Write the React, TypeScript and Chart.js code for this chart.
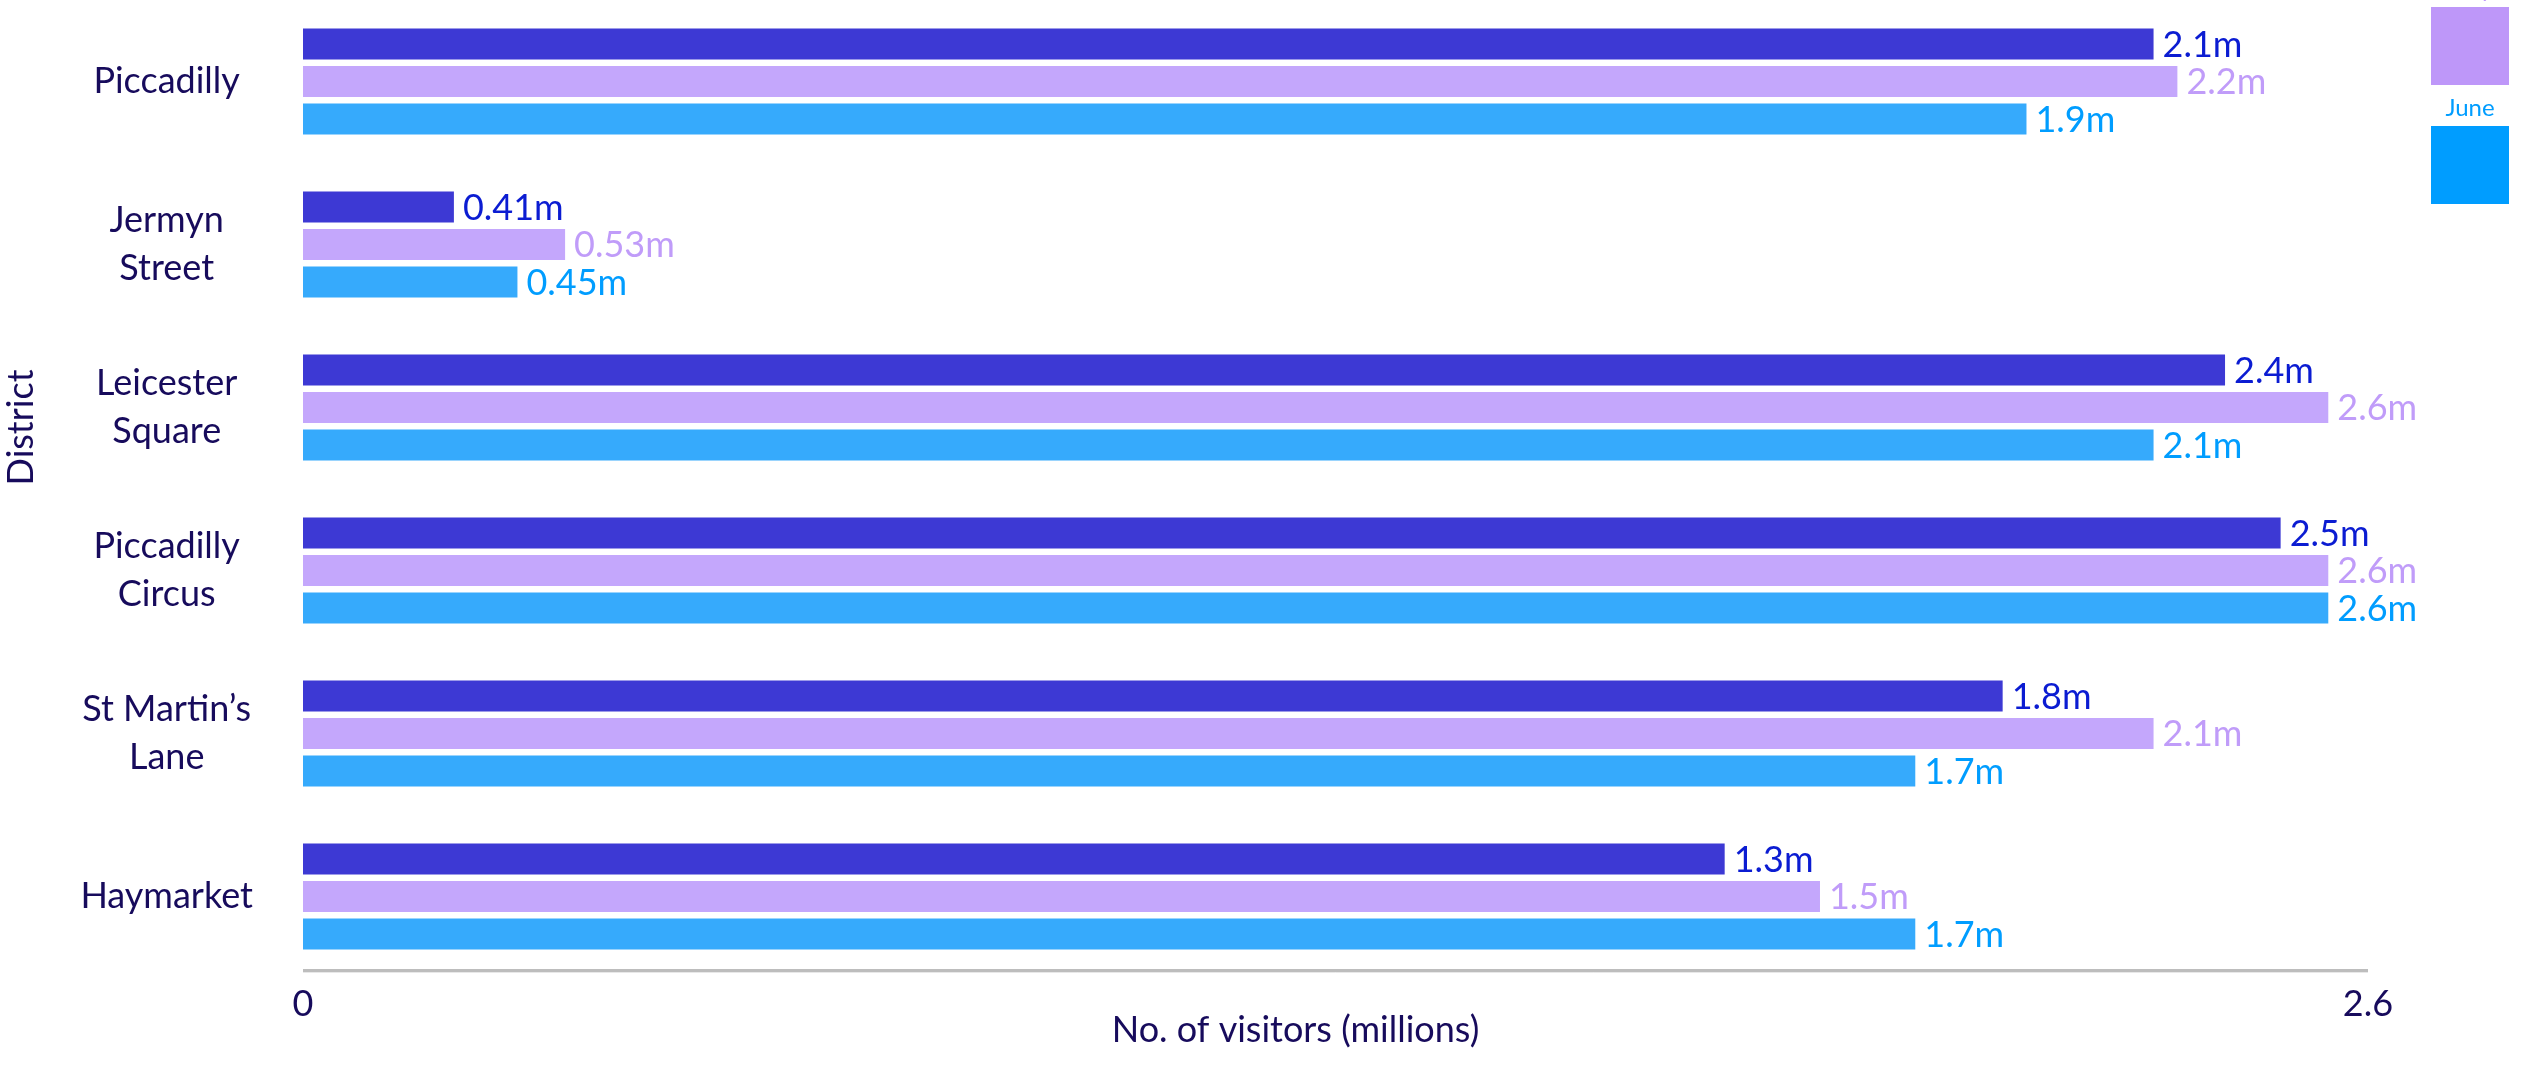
import React, { useEffect, useRef } from "react";
import { Chart, registerables } from "chart.js";

Chart.register(...registerables);

// ---- data ----
const districts: string[][] = [
  ["Piccadilly"],
  ["Jermyn", "Street"],
  ["Leicester", "Square"],
  ["Piccadilly", "Circus"],
  ["St Martin’s", "Lane"],
  ["Haymarket"],
];
const seriesNames = ["April", "May", "June"];
// bar lengths (millions) as drawn against the 0–2.6 axis
const aprilVisitors = [2.33, 0.19, 2.42, 2.49, 2.14, 1.79];
const mayVisitors = [2.36, 0.33, 2.55, 2.55, 2.33, 1.91];
const juneVisitors = [2.17, 0.27, 2.33, 2.55, 2.03, 2.03];
// value labels as printed on the chart
const aprilLabels = ["2.1m", "0.41m", "2.4m", "2.5m", "1.8m", "1.3m"];
const mayLabels = ["2.2m", "0.53m", "2.6m", "2.6m", "2.1m", "1.5m"];
const juneLabels = ["1.9m", "0.45m", "2.1m", "2.6m", "1.7m", "1.7m"];
const xTicks = [0, 2.6];
const xTitle = "No. of visitors (millions)";
const yTitle = "District";

const seriesValues = [aprilVisitors, mayVisitors, juneVisitors];
const seriesLabels = [aprilLabels, mayLabels, juneLabels];
const barColors = ["#3D39D4", "#C4A7FC", "#36AAFC"];
const textColors = ["#0B1CD2", "#C09CF9", "#009DFF"];
const legendColors = ["#0B1CD2", "#BE97F9", "#009DFF"];
const NAVY = "#170B5C";
const FAMILY = "Lato, 'Open Sans', 'DejaVu Sans', sans-serif";

const decor = {
  id: "decor",
  afterDatasetsDraw(chart: any) {
    const ctx = chart.ctx as CanvasRenderingContext2D;
    const { chartArea, scales } = chart;
    ctx.save();
    // value labels
    ctx.font = `36px ${FAMILY}`;
    ctx.textAlign = "left";
    ctx.textBaseline = "middle";
    chart.data.datasets.forEach((_: any, di: number) => {
      const meta = chart.getDatasetMeta(di);
      meta.data.forEach((el: any, i: number) => {
        ctx.fillStyle = textColors[di];
        ctx.fillText(seriesLabels[di][i], el.x + 9, el.y + 1);
      });
    });
    // x axis line
    const x0 = scales.x.getPixelForValue(xTicks[0]);
    const x1 = scales.x.getPixelForValue(xTicks[xTicks.length - 1]);
    ctx.strokeStyle = "#BDBDBD";
    ctx.lineWidth = 3;
    ctx.beginPath();
    ctx.moveTo(x0, chartArea.bottom - 7.5);
    ctx.lineTo(x1, chartArea.bottom - 7.5);
    ctx.stroke();
    ctx.strokeStyle = "rgba(189,189,189,0.35)";
    ctx.lineWidth = 1;
    ctx.beginPath();
    ctx.moveTo(x0, chartArea.bottom - 5.5);
    ctx.lineTo(x1, chartArea.bottom - 5.5);
    ctx.stroke();

    // axis titles
    ctx.fillStyle = NAVY;
    ctx.font = `36px ${FAMILY}`;
    ctx.textAlign = "center";
    ctx.textBaseline = "middle";
    ctx.fillText(xTitle, (chartArea.left + chartArea.right) / 2 - 40, chartArea.bottom + 52);
    ctx.save();
    ctx.translate(21, chartArea.top + chartArea.height * 0.437);
    ctx.rotate(-Math.PI / 2);
    ctx.fillText(yTitle, 0, 0);
    ctx.restore();

    // legend (stacked, label above swatch, top partly cut off)
    const sw = 78;
    const pitch = 119;
    const cx = chart.width - 64;
    const firstTop = 7 - pitch;
    ctx.font = `24px ${FAMILY}`;
    seriesNames.forEach((name, i) => {
      const top = firstTop + i * pitch;
      ctx.fillStyle = legendColors[i];
      ctx.fillRect(cx - sw / 2, top, sw, sw);
      ctx.fillText(name, cx, top - 18);
    });
    ctx.restore();
  },
};

export default function App() {
  const ref = useRef<HTMLCanvasElement>(null);
  useEffect(() => {
    document.body.style.margin = "0";
    const canvas = ref.current!;
    const chart = new Chart(canvas, {
      type: "bar",
      data: {
        labels: districts as any,
        datasets: seriesNames.map((name, i) => ({
          label: name,
          data: seriesValues[i],
          backgroundColor: barColors[i],
          borderWidth: 0,
          categoryPercentage: 0.69,
          barPercentage: 0.827,
        })),
      },
      options: {
        indexAxis: "y",
        animation: false,
        responsive: false,
        maintainAspectRatio: false,
        layout: { padding: { top: 0, right: 166, bottom: 0, left: 0 } },
        plugins: { legend: { display: false }, tooltip: { enabled: false } },
        scales: {
          x: {
            type: "linear",
            min: 0,
            max: 2.6,
            afterBuildTicks: (s: any) => {
              s.ticks = xTicks.map((v) => ({ value: v }));
            },
            afterFit: (s: any) => {
              s.height = 88;
              s.paddingLeft = 0;
              s.paddingRight = 0;
            },
            grid: { display: false, drawTicks: false },
            border: { display: false },
            ticks: {
              padding: 5,
              color: NAVY,
              font: { family: FAMILY, size: 36 },
              maxRotation: 0,
              autoSkip: false,
              callback: (v: any) => String(v),
            },
          },
          y: {
            afterFit: (s: any) => {
              s.width = 303;
              s.paddingTop = 0;
              s.paddingBottom = 0;
            },
            grid: { display: false, drawTicks: false },
            border: { display: false },
            ticks: {
              crossAlign: "center",
              padding: 50,
              color: NAVY,
              autoSkip: false,
              font: { family: FAMILY, size: 36, lineHeight: 1.333 },
            },
          },
        },
      } as any,
      plugins: [decor],
    });
    return () => chart.destroy();
  }, []);
  return (
    <div
      style={{
        position: "fixed",
        left: 0,
        top: 0,
        width: 2534,
        height: 1066,
        background: "#ffffff",
        overflow: "hidden",
      }}
    >
      <canvas
        ref={ref}
        width={2534}
        height={1066}
        style={{ display: "block", width: 2534, height: 1066 }}
      />
    </div>
  );
}
